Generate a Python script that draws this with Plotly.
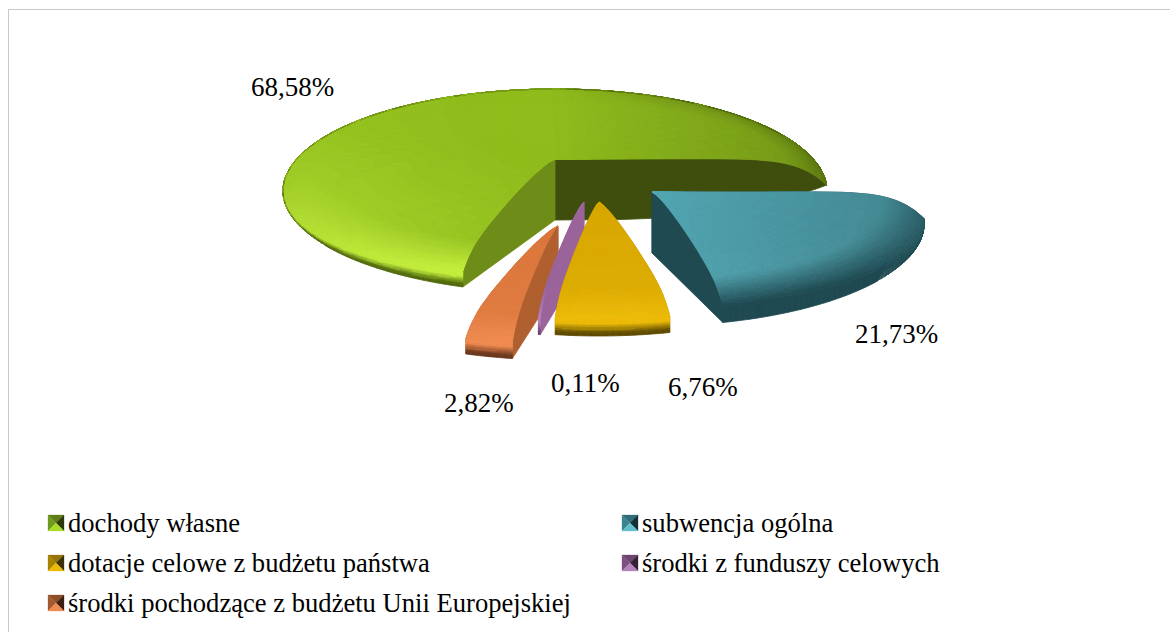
import math
from collections import defaultdict
import plotly.graph_objects as go

# ---- data ----
categories = ["dochody własne", "subwencja ogólna", "dotacje celowe z budżetu państwa",
              "środki z funduszy celowych", "środki pochodzące z budżetu Unii Europejskiej"]
values = [68.58, 21.73, 6.76, 0.11, 2.82]

# ---- look ----
top_colors = ["#8fbb1c", "#52a6b2", "#d6a600", "#9a6399", "#d9753a"]
wall_colors = ["#6d8d18", "#1f4a52", "#a88300", "#9a6399", "#b05f2f"]
back_colors = ["#3f4e0d", "#1f4a52", "#a88300", "#9a6399", "#b05f2f"]
highlight = ["#c6f23e", "#52a6b2", "#ecbb08", "#b583bb", "#f08b50"]
dark_rim = ["#4f680a", "#1f4a52", "#5e4a00", "#6c4570", "#6a371c"]
legend_tri = [("#5f7c17", "#6e9a1e", "#2c3a08", "#a8dc28"),
              ("#2f6f79", "#3c8490", "#123038", "#62c0cc"),
              ("#96760a", "#a88300", "#3c3004", "#ecbb08"),
              ("#6c4570", "#7d5080", "#352238", "#b583bb"),
              ("#8c4f2a", "#a35a30", "#3c2010", "#f08b50")]
label_pos = [(292, 87), (896, 334), (703, 387), (585, 383), (479, 403)]
legend_pos = [(48, 523), (622, 523), (48, 563), (622, 563), (48, 603)]
apex = [(555, 159), (652, 192), (599, 202), (584, 202), (558, 226)]
START = 199.8
RX, RY, MID, H, BAND = 272.0, 102.0, 32.0, 61.0, 17.0
FONT = "Liberation Serif"


def hex2(c):
    return [int(c[i:i + 2], 16) for i in (1, 3, 5)]


def mix(a, b, t):
    t = max(0.0, min(1.0, t))
    return [a[i] + (b[i] - a[i]) * t for i in range(3)]


def to_hex(c, q=2):
    return "#%02x%02x%02x" % tuple(int(max(0, min(255, round(v / q) * q))) for v in c)


def g(r):
    return 0.1 * r + 0.9 * r ** 10


def band(th):
    return BAND * max(0.0, -math.cos(th)) ** 1.5


def top_xy(a, r, th):
    x = a[0] + RX * r * math.sin(th)
    w = max(0.0, math.cos(th))
    y = (a[1] + (-RY * math.cos(th) + MID * w) * r ** 1.25 + MID * (1 - w) * g(r)
         - band(th) * r ** 8)
    return x, y


def rim_xy(a, th):
    return a[0] + RX * math.sin(th), a[1] + MID - RY * math.cos(th)


def wall_poly(a, th):
    rs = [i / 30 for i in range(31)]
    top = [top_xy(a, r, th) for r in rs]
    e = MID - RY * math.cos(th)
    p = 3.0 if abs(math.cos(th)) < 0.3 else 1.0
    bot = [(a[0] + RX * r * math.sin(th), a[1] + H + (e - H) * r ** p) for r in rs]
    return top + bot[::-1]


def poly_trace(xs, ys, color):
    return go.Scatter(x=xs, y=ys, mode="lines", fill="toself", fillcolor=color,
                      line=dict(color=color, width=0.8), hoverinfo="skip", showlegend=False)


fig = go.Figure()
total = sum(values)
angles = []
cur = START
for v in values:
    angles.append((cur, cur + v / total * 360))
    cur += v / total * 360

RS = [i / 12 * 0.8 for i in range(13)] + [0.8 + 0.2 * i / 20 for i in range(1, 21)]


def surface(i, rm, am):
    base, hi, dk = hex2(top_colors[i]), hex2(highlight[i]), hex2(dark_rim[i])
    sx, cx = math.sin(am), math.cos(am)
    c = base
    if i in (0, 1):
        # light falls from the lower left
        c = mix(c, [0, 0, 0], max(0.0, 0.2 * rm * sx))
    if i == 0:
        c = mix(c, hi, max(0.0, 0.6 * rm ** 1.5 * (-sx) * (0.55 - 0.45 * cx)))
    if i in (2, 4):
        c = mix(c, hi, 0.35 * rm * max(0.0, -cx))
    edge = max(0.0, (rm - 0.84) / 0.16) ** 1.4
    if i in (0, 1):
        c = mix(c, dk, edge * (0.7 * max(0.0, sx) + (0.85 * max(0.0, -cx) if i == 1 else 0.0)))
    if i != 1:
        factor = 1.0 if i != 0 else max(0.0, min(1.0, (0.3 - sx) / 0.5))
        c = mix(c, hi, edge * max(0.0, -cx) * factor)
    return c


def draw(i):
    a = apex[i]
    t0, t1 = angles[i]
    dk = hex2(dark_rim[i])
    for deg, col in ((t1, back_colors[i]), (t0, wall_colors[i])):
        pts = wall_poly(a, math.radians(deg))
        fig.add_trace(poly_trace([p[0] for p in pts] + [pts[0][0]], [p[1] for p in pts] + [pts[0][1]], col))
    n = max(2, int((t1 - t0) / 1.5))
    groups = defaultdict(lambda: ([], []))
    for k in range(n):
        a0 = math.radians(t0 + (t1 - t0) * k / n)
        a1 = math.radians(t0 + (t1 - t0) * (k + 1) / n)
        am = (a0 + a1) / 2
        start = surface(i, 1.0, am)
        # rim band: keeps the light for a while, then falls into shadow
        for s in range(8):
            u0, u1 = s / 8, (s + 1) / 8
            pts = []
            for th, u in ((a0, u0), (a1, u0), (a1, u1), (a0, u1)):
                tx, ty = top_xy(a, 1.0, th)
                rx, ry = rim_xy(a, th)
                pts.append((rx, ty + (ry - ty) * u))
            um = (u0 + u1) / 2
            c = to_hex(mix(start, dk, um * 1.5 if i == 1 else (um - 0.3) / 0.55))
            groups[c][0].extend([p[0] for p in pts] + [pts[0][0], None])
            groups[c][1].extend([p[1] for p in pts] + [pts[0][1], None])
        # upper surface
        for j in range(len(RS) - 1):
            r0, r1 = RS[j], RS[j + 1]
            h = to_hex(surface(i, (r0 + r1) / 2, am))
            pts = [top_xy(a, r0, a0), top_xy(a, r0, a1), top_xy(a, r1, a1), top_xy(a, r1, a0)]
            groups[h][0].extend([p[0] for p in pts] + [pts[0][0], None])
            groups[h][1].extend([p[1] for p in pts] + [pts[0][1], None])
    for col, (xs, ys) in groups.items():
        fig.add_trace(poly_trace(xs, ys, col))


for idx in (0, 1, 4, 3, 2):
    draw(idx)

# legend keys: small four-sided pyramids
SZ = 16
for i, (lx, ly) in enumerate(legend_pos):
    x0, y0 = lx, ly - SZ / 2
    x1, y1 = lx + SZ, ly + SZ / 2
    mx, my = lx + SZ / 2, ly
    tris = [([x0, x1, mx, x0], [y0, y0, my, y0]), ([x0, x0, mx, x0], [y0, y1, my, y0]),
            ([x1, x1, mx, x1], [y0, y1, my, y0]), ([x0, x1, mx, x0], [y1, y1, my, y1])]
    for (xs, ys), col in zip(tris, legend_tri[i]):
        fig.add_trace(go.Scatter(x=xs, y=ys, mode="lines", fill="toself", fillcolor=col,
                                 line=dict(color=col, width=0.3), hoverinfo="skip", showlegend=False))
    fig.add_annotation(x=lx + 18, y=ly, text=categories[i], showarrow=False, xanchor="left", yanchor="middle",
                       font=dict(family=FONT, size=26.6, color="#000000"))
    fig.add_annotation(x=label_pos[i][0], y=label_pos[i][1], text=f"{values[i]:.2f}%".replace(".", ","),
                       showarrow=False, xanchor="center", yanchor="middle",
                       font=dict(family=FONT, size=27, color="#000000"))

fig.update_layout(
    width=1170, height=632, margin=dict(l=0, r=0, t=0, b=0), paper_bgcolor="white", plot_bgcolor="white",
    showlegend=False,
    xaxis=dict(range=[0, 1170], visible=False, fixedrange=True),
    yaxis=dict(range=[632, 0], visible=False, fixedrange=True),
    shapes=[dict(type="line", x0=8.5, x1=8.5, y0=9.5, y1=632, line=dict(color="#c9c9c9", width=1)),
            dict(type="line", x0=8.5, x1=1170, y0=9.5, y1=9.5, line=dict(color="#c9c9c9", width=1))],
)
fig.write_html("out.html", config={"displayModeBar": False},
               post_script="document.body.style.margin='0';document.body.style.overflow='hidden';")
